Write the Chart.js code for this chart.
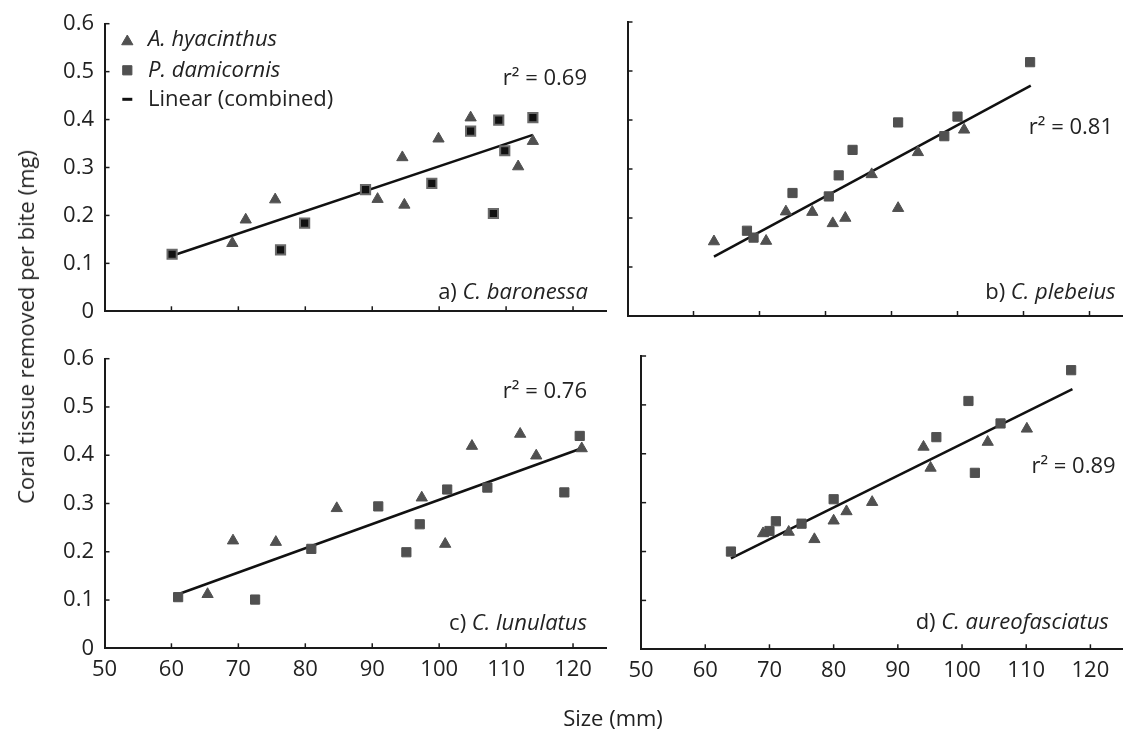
<!DOCTYPE html>
<html><head><meta charset="utf-8">
<script src="https://cdn.jsdelivr.net/npm/chart.js@4/dist/chart.umd.min.js"></script>
<style>
html,body{margin:0;padding:0;background:#fff;width:1130px;height:731px;overflow:hidden;font-family:'Open Sans',sans-serif;}
canvas{position:absolute;}
.t{position:absolute;font-size:22px;color:#222;white-space:nowrap;line-height:1;font-family:'Open Sans',sans-serif;}
</style></head><body>
<canvas id="ca" width="620" height="335" style="left:0;top:0"></canvas>
<canvas id="cb" width="510" height="335" style="left:620px;top:0"></canvas>
<canvas id="cc" width="620" height="396" style="left:0;top:335px"></canvas>
<canvas id="cd" width="510" height="396" style="left:620px;top:335px"></canvas>
<div class="t" style="left:25px;top:327px;transform:translate(-50%,-50%) rotate(-90deg)">Coral tissue removed per bite (mg)</div>
<div class="t" style="left:613px;top:717px;transform:translate(-50%,-50%)">Size (mm)</div>
<script>
// ---- tick labels / names ----
const xTickLabels = ['50','60','70','80','90','100','110','120'];
const yTickLabels = ['0','0.1','0.2','0.3','0.4','0.5','0.6'];
const seriesNames = ['A. hyacinthus','P. damicornis','Linear (combined)'];
const panelPrefix = ['a) ','b) ','c) ','d) '];
const panelSpecies = ['C. baronessa','C. plebeius','C. lunulatus','C. aureofasciatus'];
const r2Values = ['0.69','0.81','0.76','0.89'];

// ---- panel a ----
const hyaX_a = [69.1,71.1,75.5,90.8,94.5,94.8,99.9,104.7,111.8,114.0];
const hyaY_a = [0.142,0.191,0.233,0.234,0.321,0.222,0.360,0.404,0.302,0.355];
const damX_a = [60.1,76.3,79.9,89.0,98.9,104.7,108.1,108.9,109.8,114.0];
const damY_a = [0.119,0.128,0.184,0.254,0.267,0.376,0.204,0.399,0.335,0.404];
const fitX_a = [60.1,114.0];
const fitY_a = [0.116,0.368];
// ---- panel b ----
const hyaX_b = [63.1,71.0,74.0,78.0,81.1,83.0,87.0,91.0,94.0,101.0];
const hyaY_b = [0.152,0.153,0.213,0.212,0.189,0.200,0.289,0.220,0.334,0.380];
const damX_b = [68.1,69.1,75.0,80.5,82.0,84.1,91.0,98.0,100.0,111.0];
const damY_b = [0.174,0.160,0.251,0.244,0.287,0.339,0.395,0.367,0.407,0.518];
const fitX_b = [63.1,111.1];
const fitY_b = [0.121,0.470];
// ---- panel c ----
const hyaX_c = [65.4,69.2,75.6,84.7,97.4,100.9,104.9,112.1,114.5,121.3];
const hyaY_c = [0.112,0.223,0.220,0.290,0.312,0.216,0.419,0.444,0.399,0.414];
const damX_c = [61.0,72.5,80.9,90.9,95.1,97.1,101.2,107.2,118.7,121.0];
const damY_c = [0.106,0.101,0.206,0.294,0.199,0.257,0.329,0.333,0.323,0.440];
const fitX_c = [61.0,121.2];
const fitY_c = [0.112,0.414];
// ---- panel d ----
const hyaX_d = [69.0,73.0,77.0,80.0,82.0,86.0,94.0,95.1,104.0,110.1];
const hyaY_d = [0.237,0.240,0.225,0.263,0.282,0.301,0.414,0.371,0.424,0.451];
const damX_d = [64.0,70.0,71.0,75.0,80.0,96.0,101.0,102.0,106.0,117.0];
const damY_d = [0.200,0.242,0.262,0.257,0.307,0.434,0.508,0.361,0.462,0.571];
const fitX_d = [64.0,117.2];
const fitY_d = [0.186,0.532];

const FONT = "'Open Sans', sans-serif";
const TXT = '#222';
const AXIS = '#1a1a1a';
const MARK = '#505050';
Chart.defaults.font.family = FONT;

const pts = (xs, ys) => xs.map((x, i) => ({x, y: ys[i]}));

function drawMarker(ctx, style, x, y, r, fill, stroke) {
  ctx.save();
  ctx.fillStyle = fill; ctx.strokeStyle = stroke; ctx.lineWidth = 1;
  if (Chart.helpers && Chart.helpers.drawPoint) {
    Chart.helpers.drawPoint(ctx, {pointStyle: style, radius: r, rotation: 0, borderWidth: 1}, x, y);
  }
  ctx.restore();
}

function makeChart(id, idx, o) {
  const deco = {
    id: 'deco' + idx,
    afterDraw(chart) {
      const ctx = chart.ctx, ca = chart.chartArea;
      const xs = chart.scales.x, ys = chart.scales.y;
      ctx.save();
      // inside tick marks
      ctx.strokeStyle = AXIS; ctx.lineWidth = 1.5;
      xs.ticks.forEach(t => {
        const px = xs.getPixelForValue(t.value);
        if (px - ca.left < 2) return;
        ctx.beginPath(); ctx.moveTo(px, ca.bottom); ctx.lineTo(px, ca.bottom - 5); ctx.stroke();
      });
      ys.ticks.forEach(t => {
        const py = ys.getPixelForValue(t.value);
        if (ca.bottom - py < 2) return;
        ctx.beginPath(); ctx.moveTo(ca.left, py); ctx.lineTo(ca.left + 5, py); ctx.stroke();
      });
      // annotations
      ctx.fillStyle = TXT; ctx.textBaseline = 'middle';
      ctx.font = '22px ' + FONT; ctx.textAlign = 'right';
      ctx.fillText('r\u00B2 = ' + r2Values[idx], o.r2[0], o.r2[1]);
      ctx.textAlign = 'left';
      ctx.font = 'italic 22px ' + FONT;
      const wSp = ctx.measureText(panelSpecies[idx]).width;
      ctx.font = '22px ' + FONT;
      const wPre = ctx.measureText(panelPrefix[idx]).width;
      const x0 = o.lab[0] - wSp - wPre;
      ctx.fillText(panelPrefix[idx], x0, o.lab[1]);
      ctx.font = 'italic 22px ' + FONT;
      ctx.fillText(panelSpecies[idx], x0 + wPre, o.lab[1]);
      // legend
      if (o.legend) {
        const mx = 127.3, tx = 148, rows = [40, 70.3, 99.3];
        drawMarker(ctx, 'triangle', mx, rows[0] + 1.5, 6.5, MARK, MARK);
        drawMarker(ctx, 'rect', mx, rows[1], 6.5, MARK, MARK);
        ctx.strokeStyle = '#111'; ctx.lineWidth = 3;
        ctx.beginPath(); ctx.moveTo(mx - 5, rows[2]); ctx.lineTo(mx + 5, rows[2]); ctx.stroke();
        ctx.fillStyle = TXT; ctx.textAlign = 'left';
        ctx.font = 'italic 22px ' + FONT;
        ctx.fillText(seriesNames[0], tx, rows[0]);
        ctx.fillText(seriesNames[1], tx, rows[1]);
        ctx.font = '22px ' + FONT;
        ctx.fillText(seriesNames[2], tx, rows[2]);
      }
      ctx.restore();
    }
  };
  return new Chart(document.getElementById(id), {
    type: 'scatter',
    data: {
      datasets: [
        {label: seriesNames[0], data: pts(o.hx, o.hy), pointStyle: 'triangle', pointRadius: 6.5,
         backgroundColor: MARK, borderColor: MARK, borderWidth: 1, order: 1},
        {label: seriesNames[1], data: pts(o.dx, o.dy), pointStyle: 'rect', pointRadius: 6.5,
         backgroundColor: o.sqFill, borderColor: o.sqBorder, borderWidth: o.sqBW, order: 2},
        {label: seriesNames[2], data: pts(o.fx, o.fy), showLine: true, pointRadius: 0,
         borderColor: '#111', borderWidth: 2.5, order: 3}
      ]
    },
    options: {
      responsive: false, animation: false,
      layout: {padding: {top: o.pad[0], right: o.pad[1], bottom: 0, left: 0}},
      plugins: {legend: {display: false}, tooltip: {enabled: false}},
      scales: {
        x: {type: 'linear', min: 50, max: 125,
            ticks: {stepSize: 10, includeBounds: false, display: o.showX, padding: 8.5, color: TXT,
                    font: {size: 22, family: FONT}, maxRotation: 0, autoSkip: false,
                    callback: (v, i) => xTickLabels[i]},
            grid: {display: false, drawTicks: false},
            border: {display: true, color: AXIS, width: 2},
            afterFit: s => { s.height = o.xH; }},
        y: {type: 'linear', min: 0, max: 0.6,
            ticks: {stepSize: 0.1, display: o.showY, padding: 10.5, color: TXT,
                    font: {size: 22, family: FONT}, autoSkip: false,
                    callback: (v, i) => yTickLabels[i]},
            grid: {display: false, drawTicks: false},
            border: {display: true, color: AXIS, width: 2},
            afterFit: s => { s.width = o.yW; }}
      }
    },
    plugins: [deco]
  });
}

makeChart('ca', 0, {hx: hyaX_a, hy: hyaY_a, dx: damX_a, dy: damY_a, fx: fitX_a, fy: fitY_a,
  sqFill: '#111', sqBorder: '#6a6a6a', sqBW: 2, pad: [22.7, 13.5], xH: 19.3, yW: 104.5,
  showX: false, showY: true, r2: [587, 79], lab: [588, 293], legend: true});
makeChart('cb', 1, {hx: hyaX_b, hy: hyaY_b, dx: damX_b, dy: damY_b, fx: fitX_b, fy: fitY_b,
  sqFill: MARK, sqBorder: MARK, sqBW: 1, pad: [22, 0.5], xH: 19, yW: 7,
  showX: false, showY: false, r2: [493, 128], lab: [495.6, 293], legend: false});
makeChart('cc', 2, {hx: hyaX_c, hy: hyaY_c, dx: damX_c, dy: damY_c, fx: fitX_c, fy: fitY_c,
  sqFill: MARK, sqBorder: MARK, sqBW: 1, pad: [20, 13.5], xH: 82.7, yW: 104.5,
  showX: true, showY: true, r2: [587, 56.7], lab: [587, 288.3], legend: false});
makeChart('cd', 3, {hx: hyaX_d, hy: hyaY_d, dx: damX_d, dy: damY_d, fx: fitX_d, fy: fitY_d,
  sqFill: MARK, sqBorder: MARK, sqBW: 1, pad: [21, 0.5], xH: 81.7, yW: 7,
  showX: true, showY: false, r2: [495.6, 131.7], lab: [488.8, 288], legend: false});
</script>
</body></html>
